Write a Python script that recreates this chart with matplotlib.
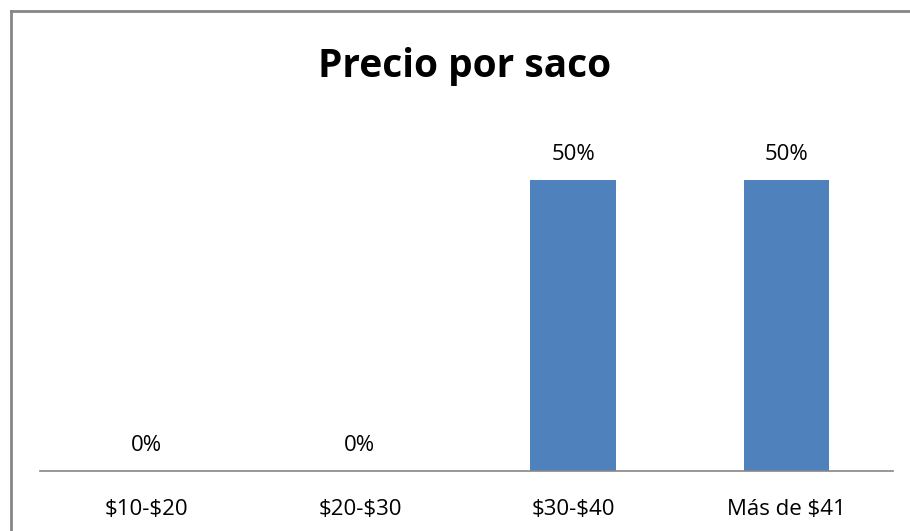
import matplotlib.pyplot as plt

categorias = ["$10-$20", "$20-$30", "$30-$40", "Más de $41"]
porcentajes = [0.0, 0.0, 0.5, 0.5]
etiquetas = ["0%", "0%", "50%", "50%"]

plt.rcParams['font.family'] = ['Open Sans', 'DejaVu Sans']
plt.rcParams['text.parse_math'] = False

fig = plt.figure(figsize=(9.1, 5.31), dpi=100)
ax = fig.add_axes([40 / 910, 1 - 471 / 531, 853 / 910, (471 - 121.8) / 531])

x = range(len(categorias))
ax.bar(x, porcentajes, width=0.4, color='#4F81BD')
ax.set_xlim(-0.5, len(categorias) - 0.5)
ax.set_ylim(0, 0.6)

for xi, v, txt in zip(x, porcentajes, etiquetas):
    ax.annotate(txt, (xi, v), xytext=(0, 18.7), textcoords='offset points',
                ha='center', va='center', fontsize=16, color='black')

ax.set_xticks(list(x))
ax.set_xticklabels(categorias, fontsize=16)
ax.tick_params(axis='x', length=0, pad=20)
ax.set_yticks([])
for s in ['top', 'right', 'left']:
    ax.spines[s].set_visible(False)
ax.spines['bottom'].set_color('#868686')
ax.spines['bottom'].set_linewidth(1.2)

fig.text(465 / 910, 1 - 77 / 531, "Precio por saco", ha='center', va='baseline',
         fontsize=28, fontweight='bold')

# borde del area del grafico (solo se ve arriba y a la izquierda)
fig.add_artist(plt.Line2D([10.5 / 910, 10.5 / 910], [0, 1 - 10.5 / 531],
                          color='#868686', linewidth=2, transform=fig.transFigure))
fig.add_artist(plt.Line2D([10.5 / 910, 1], [1 - 10.5 / 531, 1 - 10.5 / 531],
                          color='#868686', linewidth=2, transform=fig.transFigure))

fig.savefig('out.png', dpi=100)
